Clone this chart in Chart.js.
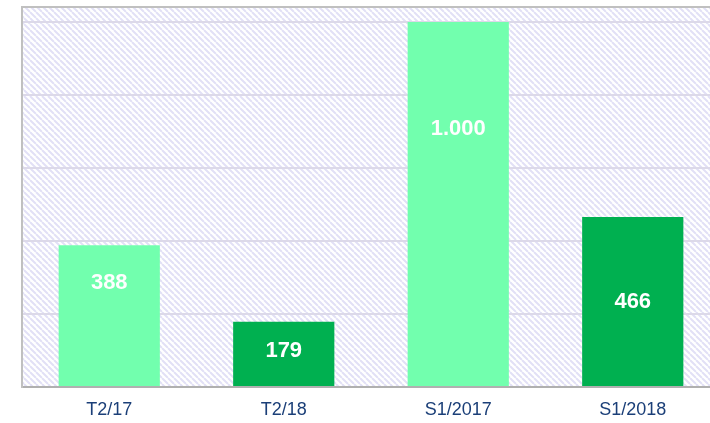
<!DOCTYPE html>
<html>
<head>
<meta charset="utf-8">
<script src="https://cdn.jsdelivr.net/npm/chart.js@4/dist/chart.umd.min.js"></script>
<style>
  html, body { margin: 0; padding: 0; background: #ffffff; overflow: hidden; }
  #wrap { position: relative; width: 720px; height: 423px; }
</style>
</head>
<body>
<div id="wrap"><canvas id="c" width="720" height="423"></canvas></div>
<script>
const categories = ["T2/17", "T2/18", "S1/2017", "S1/2018"];
const values = [388, 179, 1000, 466];
const valueLabels = ["388", "179", "1.000", "466"];
const barColors = ["#72ffae", "#00b050", "#72ffae", "#00b050"];
const gridTicks = [0, 200, 400, 600, 800, 1000];
// vertical placement of value labels inside each bar (fraction from bar top)
const labelFrac = [0.27, 0.46, 0.293, 0.505];

function makePattern() {
  const p = document.createElement('canvas');
  p.width = 6; p.height = 6;
  const g = p.getContext('2d');
  g.fillStyle = '#ffffff';
  g.fillRect(0, 0, 6, 6);
  g.strokeStyle = '#e2e0f6';
  g.lineWidth = 2;
  g.beginPath();
  for (let k = -6; k <= 12; k += 6) {
    g.moveTo(k, 0); g.lineTo(k + 6, 6);
  }
  g.stroke();
  return g.createPattern(p, 'repeat');
}

const bgPlugin = {
  id: 'bgHatch',
  beforeDraw(chart) {
    const { ctx, chartArea: a } = chart;
    ctx.save();
    ctx.fillStyle = makePattern();
    ctx.fillRect(a.left, a.top, a.right - a.left, a.bottom - a.top);
    ctx.strokeStyle = '#c0c0c0';
    ctx.lineWidth = 2;
    ctx.beginPath();
    ctx.moveTo(a.left, a.top);
    ctx.lineTo(a.right, a.top);
    ctx.stroke();
    ctx.restore();
  }
};

const labelPlugin = {
  id: 'valLabels',
  afterDatasetsDraw(chart) {
    const { ctx } = chart;
    const meta = chart.getDatasetMeta(0);
    ctx.save();
    ctx.fillStyle = '#ffffff';
    ctx.font = 'bold 22px "Liberation Sans", Arial, sans-serif';
    ctx.textAlign = 'center';
    ctx.textBaseline = 'middle';
    meta.data.forEach((bar, i) => {
      const top = bar.y, bottom = bar.base;
      const y = top + (bottom - top) * labelFrac[i];
      ctx.fillText(valueLabels[i], bar.x, y);
    });
    ctx.restore();
  }
};

new Chart(document.getElementById('c'), {
  type: 'bar',
  data: {
    labels: categories,
    datasets: [{
      data: values,
      backgroundColor: barColors,
      borderWidth: 0,
      barPercentage: 0.58,
      categoryPercentage: 1.0
    }]
  },
  options: {
    responsive: false,
    animation: false,
    layout: { padding: { left: 22, top: 7, right: 0, bottom: 0 } },
    plugins: { legend: { display: false }, tooltip: { enabled: false } },
    scales: {
      x: {
        afterFit(scale) { scale.height = 36; },
        grid: { display: false, drawTicks: false },
        border: { display: true, color: '#b0b0b0', width: 2 },
        ticks: {
          color: '#1b3f78',
          font: { family: '"Liberation Sans", Arial, sans-serif', size: 18 },
          padding: 12
        }
      },
      y: {
        min: 0,
        max: 1041,
        afterBuildTicks(scale) { scale.ticks = gridTicks.map(v => ({ value: v })); },
        grid: {
          color: (c) => c.tick && c.tick.value === 0 ? 'rgba(0,0,0,0)' : '#dcd9e9',
          lineWidth: 2,
          drawTicks: false
        },
        border: { display: true, color: '#c0c0c0', width: 2 },
        ticks: { display: false }
      }
    }
  },
  plugins: [bgPlugin, labelPlugin]
});
</script>
</body>
</html>
